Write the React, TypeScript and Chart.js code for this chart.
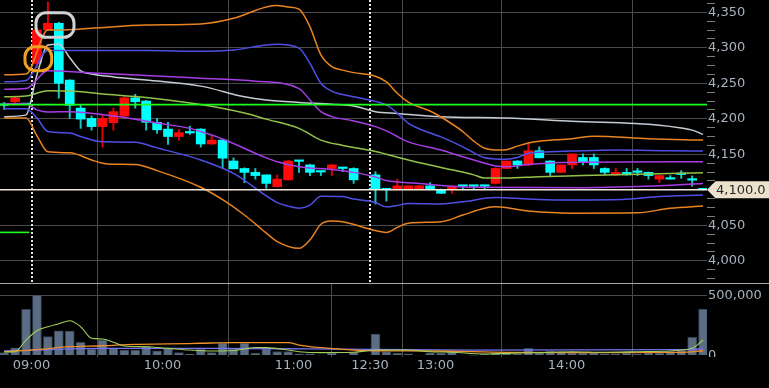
import React, { useEffect, useRef } from "react";
import { Chart, registerables } from "chart.js";

Chart.register(...registerables);

const FONT = "'DejaVu Sans', 'Liberation Sans', sans-serif";
const GRID = "#4b4b4b";
const LABEL = "#a7b2be";

// ---------- time axis (5-minute slots, slot 30 = lunch gap) ----------
const X_MIN = -2.885;
const X_MAX = 61.86;
const timeTickSlots = [0, 12, 24, 31, 37, 49];
const timeTickLabels = ["09:00", "10:00", "11:00", "12:30", "13:00", "14:00"];
const sessionStartSlots = [0, 31];

// ---------- price axis ----------
const Y_MIN = 3968.7;
const Y_MAX = 4367.3;
const priceMajorTicks = [4000, 4050, 4100, 4150, 4200, 4250, 4300, 4350];
const priceMinorStep = 12.5;

// ---------- volume axis ----------
const VOL_MIN = -12600;
const VOL_MAX = 600800;
const volumeTicks = [0, 500000];

// ---------- candles ----------
const candleSlots = [
  -3, -2, -1, 0, 1, 2, 3, 4, 5, 6, 7, 8, 9, 10, 11, 12, 13, 14, 15, 16, 17, 18, 19, 20,
  21, 22, 23, 24, 25, 26, 27, 28, 29, 31, 32, 33, 34, 35, 36, 37, 38, 39, 40, 41, 42,
  43, 44, 45, 46, 47, 48, 49, 50, 51, 52, 53, 54, 55, 56, 57, 58, 59, 60, 61,
];
const opens = [
  4220, 4224, 4220, 4278, 4325, 4334.5, 4254.5, 4215, 4200.5, 4189, 4194.5, 4204, 4229.5,
  4225, 4195, 4185.5, 4175, 4181, 4185.5, 4164.5, 4170, 4140.5, 4130, 4124.5, 4121, 4104.5,
  4114, 4140.5, 4135, 4125.5, 4130, 4130.5, 4130, 4121, 4101, 4101, 4101, 4101, 4105.5,
  4100.5, 4100.5, 4105.5, 4105.5, 4105.5, 4109, 4130, 4140.5, 4135, 4155, 4140.5, 4124.5,
  4135, 4145.5, 4145.5, 4130, 4121, 4124.5, 4125, 4124.5, 4115, 4115.5, 4122, 4114, 4100,
];
const highs = [
  4223, 4231, 4220, 4327, 4364.5, 4336, 4255, 4219.5, 4204, 4205, 4215, 4231, 4234.5, 4226,
  4200.5, 4195, 4185, 4189.5, 4186, 4176, 4171, 4145, 4131, 4130, 4121, 4121, 4141, 4141,
  4136, 4126, 4136, 4130.5, 4131, 4125.5, 4101, 4115, 4106, 4106, 4110, 4101, 4105.5,
  4105.5, 4105.5, 4105.5, 4131, 4140.5, 4141, 4165.5, 4160.5, 4141, 4135, 4150.5, 4150.5,
  4150.5, 4131, 4130, 4130, 4130, 4125, 4120, 4120, 4127, 4119.5, 4100,
];
const lows = [
  4213, 4222, 4220, 4272, 4325, 4229, 4200.5, 4186.5, 4184, 4160, 4184, 4203, 4215, 4184,
  4179.5, 4164, 4170, 4178, 4160, 4164, 4130, 4129.5, 4110, 4115, 4102, 4104, 4113.5,
  4124.5, 4120, 4120, 4120, 4125.5, 4109, 4080, 4084, 4101, 4101, 4101, 4100, 4095, 4095,
  4100.5, 4100.5, 4100.5, 4108, 4130, 4130, 4134.5, 4145, 4120, 4124.5, 4130, 4135, 4130,
  4121, 4120.5, 4120.5, 4120, 4115, 4110, 4115, 4116, 4105, 4100,
];
const closes = [
  4219, 4229.5, 4220, 4325, 4334.5, 4250, 4219, 4199.5, 4189, 4200.5, 4210, 4229.5, 4224,
  4195, 4184.5, 4175, 4180.5, 4180, 4164.5, 4170, 4144.5, 4129.5, 4124.5, 4120, 4109, 4115,
  4140.5, 4140, 4124.5, 4125, 4135, 4130, 4114, 4100.5, 4100, 4105.5, 4105.5, 4105.5,
  4100.5, 4095, 4105, 4105, 4105, 4105, 4130, 4140.5, 4135, 4155, 4145, 4124.5, 4135,
  4150.5, 4139.5, 4135, 4124.5, 4124.5, 4121, 4124.5, 4120, 4120, 4115, 4121.5, 4113.5, 4100,
];
const volumes = [
  24000, 65000, 388000, 508000, 158000, 208000, 206000, 111000, 52000, 130000, 60000, 46000,
  46000, 80000, 40000, 60000, 24000, 10000, 52000, 24000, 102000, 55000, 102000, 18000,
  55000, 32000, 32000, 13000, 13000, 4000, 18000, 4000, 27000, 181000, 32000, 18000, 13000,
  4000, 22000, 18000, 32000, 4000, 3000, 10000, 22000, 22000, 13000, 60000, 18000, 38000,
  32000, 22000, 18000, 22000, 13000, 13000, 18000, 13000, 22000, 18000, 32000, 46000,
  153000, 391000,
];

// ---------- reference levels ----------
const prevClose = 4220;
const lastPrice = 4100;
const prevSessionLevel = 4040;
const prevSessionLevelEnd = -0.2;

// ---------- indicator lines: [slot, value] ----------
type Pt = [number, number];
const upper3: Pt[] = [
  [-3, 4262], [-1, 4263], [1, 4325], [2, 4325], [5, 4327.5], [10, 4332], [15, 4333.5],
  [18, 4341.5], [21, 4357.5], [22, 4359.5], [23, 4357.5], [24, 4354.5], [25, 4329.5],
  [26, 4290], [27, 4273.5], [28, 4268.5], [29, 4265], [31, 4260], [32, 4252], [33, 4236],
  [34, 4223.5], [36, 4211], [37, 4202.5], [39, 4182], [40, 4168.5], [41, 4158.5], [42, 4156],
  [43, 4156.5], [44, 4161.5], [45, 4166], [46, 4168.5], [49, 4172], [51, 4175.5], [56, 4172],
  [61, 4170],
];
const upper2: Pt[] = [
  [-3, 4252], [-1, 4254], [1, 4296], [5, 4296], [10, 4296], [15, 4295], [18, 4297],
  [21, 4304], [22, 4305], [24, 4299.5], [25, 4278], [26, 4250], [27, 4239], [29, 4231],
  [31, 4224.5], [32, 4219.5], [33, 4208], [34, 4194], [36, 4180], [37, 4174.5], [39, 4160.5],
  [41, 4145], [42, 4143.5], [43, 4143], [44, 4145.5], [45, 4151.5], [47, 4153.5], [49, 4154.5],
  [53, 4156], [58, 4155], [61, 4154.5],
];
const upper1: Pt[] = [
  [-3, 4241.5], [-1, 4242.5], [1, 4267.5], [5, 4264.5], [10, 4261], [15, 4257], [20, 4253],
  [24, 4242.5], [25, 4226.5], [26, 4210], [27, 4203], [29, 4197], [31, 4189], [32, 4183],
  [33, 4175], [34, 4167.5], [37, 4156], [39, 4146.5], [41, 4137.5], [42, 4133.5], [43, 4132.5],
  [45, 4135.5], [48, 4138.5], [61, 4139.5],
];
const maLong: Pt[] = [
  [-3, 4203], [-1, 4205.5], [0, 4262], [1, 4304], [2, 4305], [3, 4286], [4, 4267.5],
  [5, 4263], [7, 4259], [10, 4254.5], [15, 4246], [19, 4231], [21, 4226.5], [24, 4223],
  [27, 4220.5], [29, 4218], [31, 4210], [33, 4207.5], [37, 4203], [43, 4201], [49, 4196.5],
  [57, 4191], [59, 4187], [60, 4184], [61, 4178],
];
const maMid: Pt[] = [
  [-3, 4231], [-1, 4232], [1, 4239.5], [3, 4239], [6, 4235], [10, 4230], [15, 4220],
  [19, 4208], [21, 4199.5], [24, 4186.5], [26, 4170], [28, 4162.5], [31, 4154], [34, 4142],
  [37, 4131.5], [40, 4121], [41, 4116.5], [43, 4116.5], [46, 4118.5], [50, 4120], [55, 4122],
  [61, 4124],
];
const lower1: Pt[] = [
  [-3, 4221], [-1, 4221], [0, 4212.5], [1, 4209.5], [3, 4210], [7, 4204], [9, 4199.5],
  [11, 4194], [14, 4186.5], [15, 4182], [17, 4171.5], [21, 4145], [22, 4139.5], [24, 4132.5],
  [27, 4128.5], [29, 4124.5], [31, 4118], [32, 4113], [35, 4109], [37, 4106], [40, 4103.5],
  [50, 4103], [57, 4105.5], [61, 4109],
];
const lower2: Pt[] = [
  [-3, 4214], [-1, 4214], [0, 4201], [1, 4182], [3, 4180], [4, 4175], [6, 4167.5], [9, 4167],
  [11, 4159], [15, 4142], [18, 4123], [22, 4082], [23, 4077], [24, 4074], [25, 4078.5],
  [26, 4091], [28, 4090.5], [29, 4087], [31, 4082], [32, 4076], [33, 4078], [34, 4080.5],
  [37, 4080], [39, 4083], [42, 4089], [45, 4087], [49, 4085.5], [54, 4086.5], [57, 4090.5],
  [61, 4092.5],
];
const lower3: Pt[] = [
  [-3, 4201], [-1, 4201], [0, 4176], [1, 4153.5], [3, 4152], [5, 4142], [6, 4137.5],
  [7, 4136], [9, 4135.5], [11, 4127], [15, 4103.5], [17, 4086], [19, 4064.5], [20, 4052],
  [21, 4039], [22, 4027], [24, 4017.5], [25, 4029.5], [26, 4051.5], [27, 4056], [28, 4055],
  [31, 4042.5], [32, 4040], [33, 4047], [34, 4053], [37, 4055], [39, 4064.5], [41, 4074],
  [42, 4076], [45, 4070], [49, 4067], [55, 4067.5], [58, 4074], [61, 4077],
];
const volShort: Pt[] = [
  [-3, 30000], [-2, 32000], [-1, 130000], [0, 208000], [1, 242000], [2, 267000], [3, 292000],
  [4, 242000], [5, 145000], [6, 139000], [7, 111000], [8, 80000], [10, 74000], [12, 60000],
  [14, 46000], [16, 38000], [18, 42000], [19, 55000], [20, 67000], [21, 66000], [23, 46000],
  [24, 32000], [26, 24000], [29, 27000], [31, 46000], [34, 46000], [36, 32000], [38, 27000],
  [41, 13000], [43, 18000], [46, 24000], [49, 32000], [52, 27000], [55, 32000], [58, 38000],
  [59, 46000], [60, 60000], [61, 130000],
];
const volMid: Pt[] = [
  [-3, 32000], [0, 50000], [3, 74000], [6, 82000], [9, 94000], [12, 97000], [15, 103000],
  [18, 108000], [23, 108000], [24, 88000], [26, 66000], [29, 46000], [31, 40000], [36, 38000],
  [43, 27000], [50, 24000], [59, 27000], [61, 40000],
];
const volLong: Pt[] = [
  [-3, 38000], [0, 46000], [6, 60000], [15, 60000], [25, 55000], [40, 46000], [59, 49000],
  [61, 55000],
];

// highlight marks drawn on the chart: slot range and price range
const highlightSlotsFrom = [0.41, -0.6];
const highlightSlotsTo = [3.89, 1.85];
const highlightPriceLow = [4314.8, 4267.7];
const highlightPriceHigh = [4349.4, 4301.5];
const highlightColors = ["#d2d2d2", "#f0a020"];

// ---------- helpers ----------
const UP = "#ff0a0a";
const DOWN = "#00ffff";
const UP_WICK = "#e00000";
const DOWN_WICK = "#14c8c8";
const isUp = (k: number) => closes[k] > opens[k];
const pts = (arr: Pt[]) => arr.map(([s, v]) => ({ x: s + 0.5, y: v }));
const fmt = (v: number) => v.toLocaleString("en-US");
const isMajor = (v: number) => priceMajorTicks.includes(v);

function lineDs(data: Pt[], color: string, width = 1.5, order = 1) {
  return {
    type: "line" as const,
    data: pts(data),
    borderColor: color,
    borderWidth: width,
    pointRadius: 0,
    cubicInterpolationMode: "monotone" as const,
    fill: false,
    order,
  };
}

function hLine(value: number, color: string, from = X_MIN, to = X_MAX) {
  return {
    type: "line" as const,
    data: [
      { x: from, y: value },
      { x: to, y: value },
    ],
    borderColor: color,
    borderWidth: 1.6,
    pointRadius: 0,
    fill: false,
    order: 0,
  };
}

const timeScale = (showLabels: boolean) => ({
  type: "linear" as const,
  min: X_MIN,
  max: X_MAX,
  offset: false,
  afterBuildTicks: (s: any) => {
    s.ticks = timeTickSlots.map((v) => ({ value: v }));
  },
  afterFit: (s: any) => {
    s.height = showLabels ? 31 : 0;
    s.paddingLeft = 0;
    s.paddingRight = 0;
  },
  ticks: {
    display: showLabels,
    autoSkip: false,
    maxRotation: 0,
    padding: 1,
    color: LABEL,
    font: { family: FONT, size: 13 },
    callback: (v: any) => {
      const i = timeTickSlots.indexOf(Number(v));
      return i >= 0 ? timeTickLabels[i] : "";
    },
  },
  grid: {
    drawTicks: false,
    lineWidth: 1,
    color: (c: any) =>
      !showLabels && sessionStartSlots.includes(c.tick?.value) ? "rgba(0,0,0,0)" : GRID,
  },
  border: { display: false },
});

const topOverlay = {
  id: "topOverlay",
  beforeDatasetsDraw(chart: any) {
    const { ctx, chartArea, scales } = chart;
    ctx.save();
    ctx.strokeStyle = "#e8e8e8";
    ctx.lineWidth = 2;
    ctx.setLineDash([2, 2]);
    sessionStartSlots.forEach((s) => {
      const x = Math.round(scales.x.getPixelForValue(s));
      ctx.beginPath();
      ctx.moveTo(x, chartArea.top);
      ctx.lineTo(x, chartArea.bottom);
      ctx.stroke();
    });
    ctx.restore();
  },
  afterDraw(chart: any) {
    const { ctx, chartArea, scales } = chart;
    ctx.save();
    // highlight marks
    ctx.lineWidth = 3;
    highlightColors.forEach((col, k) => {
      const x0 = scales.x.getPixelForValue(highlightSlotsFrom[k]);
      const x1 = scales.x.getPixelForValue(highlightSlotsTo[k]);
      const y0 = scales.y.getPixelForValue(highlightPriceHigh[k]);
      const y1 = scales.y.getPixelForValue(highlightPriceLow[k]);
      ctx.strokeStyle = col;
      ctx.beginPath();
      (ctx as any).roundRect(x0, y0, x1 - x0, y1 - y0, 10);
      ctx.stroke();
    });
    // last price tag
    const y = scales.y.getPixelForValue(lastPrice);
    const r = chartArea.right;
    ctx.fillStyle = "#ece1cc";
    ctx.beginPath();
    ctx.moveTo(r, y);
    ctx.lineTo(r + 8.5, y - 8.5);
    ctx.lineTo(chart.width, y - 8.5);
    ctx.lineTo(chart.width, y + 8.5);
    ctx.lineTo(r + 8.5, y + 8.5);
    ctx.closePath();
    ctx.fill();
    ctx.fillStyle = "#2a2a2a";
    ctx.font = `13px ${FONT}`;
    ctx.textBaseline = "middle";
    ctx.textAlign = "left";
    ctx.fillText(
      lastPrice.toLocaleString("en-US", { minimumFractionDigits: 1 }),
      r + 9,
      y + 0.5
    );
    // panel separator
    ctx.fillStyle = "#a6a6a6";
    ctx.fillRect(0, chartArea.bottom, chart.width, 1);
    ctx.restore();
  },
};

const bottomOverlay = {
  id: "bottomOverlay",
  afterDraw(chart: any) {
    const { ctx, chartArea, scales } = chart;
    ctx.save();
    ctx.beginPath();
    ctx.rect(chartArea.right, 0, chart.width - chartArea.right, chartArea.bottom);
    ctx.clip();
    ctx.fillStyle = LABEL;
    ctx.font = `13px ${FONT}`;
    ctx.textBaseline = "middle";
    ctx.textAlign = "left";
    ctx.fillText(fmt(volumeTicks[0]), chartArea.right + 1, scales.y.getPixelForValue(volumeTicks[0]));
    ctx.restore();
  },
};

function priceTickList() {
  const out: number[] = [];
  for (let v = priceMajorTicks[0] - 2 * priceMinorStep; v < Y_MAX; v += priceMinorStep) {
    if (v > Y_MIN) out.push(v);
  }
  return out;
}

export default function App() {
  const topRef = useRef<HTMLCanvasElement>(null);
  const botRef = useRef<HTMLCanvasElement>(null);

  useEffect(() => {
    document.body.style.margin = "0";
    document.body.style.background = "#000";
    Chart.defaults.font.family = FONT;

    const candleX = candleSlots.map((s) => s + 0.5);
    const minorTicks = priceTickList();

    const top = new Chart(topRef.current as HTMLCanvasElement, {
      type: "bar",
      data: {
        datasets: [
          hLine(prevClose, "#1dff1d") as any,
          hLine(lastPrice, "#f3e9da") as any,
          hLine(prevSessionLevel, "#1dff1d", X_MIN, prevSessionLevelEnd) as any,
          lineDs(upper3, "#e98420") as any,
          lineDs(lower3, "#e98420") as any,
          lineDs(upper2, "#4f4fe6") as any,
          lineDs(lower2, "#4f4fe6") as any,
          lineDs(upper1, "#a63ee6") as any,
          lineDs(lower1, "#a63ee6") as any,
          lineDs(maLong, "#c4ccd4") as any,
          lineDs(maMid, "#93c24a") as any,
          {
            type: "bar",
            data: candleX.map((x, k) => ({ x, y: [opens[k], closes[k]] })),
            backgroundColor: candleSlots.map((_, k) => (isUp(k) ? UP : DOWN)),
            borderWidth: 0,
            barThickness: 9,
            minBarLength: 1.5,
            grouped: false,
            order: 2,
          } as any,
          {
            type: "bar",
            data: candleX.map((x, k) => ({ x, y: [lows[k], highs[k]] })),
            backgroundColor: candleSlots.map((_, k) => (isUp(k) ? UP_WICK : DOWN_WICK)),
            borderWidth: 0,
            barThickness: 1.3,
            grouped: false,
            order: 3,
          } as any,
        ],
      },
      options: {
        animation: false,
        responsive: false,
        maintainAspectRatio: false,
        layout: { padding: { left: 0, right: 0, top: 0, bottom: 1 } },
        plugins: { legend: { display: false }, tooltip: { enabled: false } },
        scales: {
          x: timeScale(false) as any,
          y: {
            type: "linear",
            position: "right",
            min: Y_MIN,
            max: Y_MAX,
            afterBuildTicks: (s: any) => {
              s.ticks = minorTicks.map((v) => ({ value: v }));
            },
            afterFit: (s: any) => {
              s.width = 62;
              s.paddingTop = 0;
              s.paddingBottom = 0;
            },
            grid: {
              lineWidth: 1,
              tickLength: 8,
              color: (c: any) => (isMajor(c.tick?.value) ? GRID : "rgba(0,0,0,0)"),
              tickColor: (c: any) => (isMajor(c.tick?.value) ? "rgba(0,0,0,0)" : "#7c7c7c"),
            },
            ticks: {
              autoSkip: false,
              padding: -7,
              color: LABEL,
              font: { family: FONT, size: 13 },
              callback: (v: any) => (isMajor(Number(v)) ? fmt(Number(v)) : ""),
            },
            border: { display: false },
          } as any,
        },
      },
      plugins: [topOverlay],
    });

    const bot = new Chart(botRef.current as HTMLCanvasElement, {
      type: "bar",
      data: {
        datasets: [
          lineDs(volShort, "#a2d05a", 1.1) as any,
          lineDs(volMid, "#f0902c", 1.3) as any,
          lineDs(volLong, "#7474f4", 1.3) as any,
          {
            type: "bar",
            data: candleX.map((x, k) => ({ x, y: volumes[k] })),
            backgroundColor: "#5a6d85",
            borderColor: "#36424f",
            borderWidth: 1,
            barThickness: 9,
            grouped: false,
            order: 2,
          } as any,
        ],
      },
      options: {
        animation: false,
        responsive: false,
        maintainAspectRatio: false,
        layout: { padding: 0 },
        plugins: { legend: { display: false }, tooltip: { enabled: false } },
        scales: {
          x: timeScale(true) as any,
          y: {
            type: "linear",
            position: "right",
            min: VOL_MIN,
            max: VOL_MAX,
            afterBuildTicks: (s: any) => {
              s.ticks = volumeTicks.map((v) => ({ value: v }));
            },
            afterFit: (s: any) => {
              s.width = 62;
              s.paddingTop = 0;
              s.paddingBottom = 0;
            },
            grid: {
              drawTicks: false,
              color: (c: any) => (c.tick?.value === volumeTicks[1] ? GRID : "rgba(0,0,0,0)"),
            },
            ticks: {
              autoSkip: false,
              padding: 1,
              color: LABEL,
              font: { family: FONT, size: 13 },
              callback: (v: any) => (Number(v) === volumeTicks[1] ? fmt(Number(v)) : ""),
            },
            border: { display: false },
          } as any,
        },
      },
      plugins: [bottomOverlay],
    });

    return () => {
      top.destroy();
      bot.destroy();
    };
  }, []);

  return (
    <div style={{ position: "relative", width: 769, height: 388, background: "#000", overflow: "hidden" }}>
      <canvas
        ref={topRef}
        width={769}
        height={284}
        style={{ position: "absolute", left: 0, top: 0, width: 769, height: 284 }}
      />
      <canvas
        ref={botRef}
        width={769}
        height={104}
        style={{ position: "absolute", left: 0, top: 284, width: 769, height: 104 }}
      />
    </div>
  );
}
